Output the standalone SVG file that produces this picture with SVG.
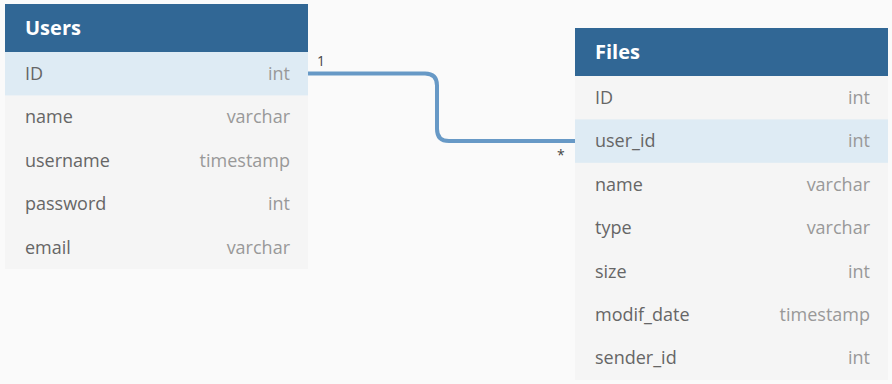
<svg xmlns="http://www.w3.org/2000/svg" width="892" height="384" viewBox="0 0 892 384">
  <style>
    .bg { fill: #fafafa; }
    .head { fill: #316795; }
    .row { fill: #f5f5f5; }
    .hl { fill: #deebf4; }
    .title { font-family: "Open Sans", "Liberation Sans", sans-serif; font-size: 20px; font-weight: bold; fill: #ffffff; }
    .fname { font-family: "Open Sans", "Liberation Sans", sans-serif; font-size: 18px; fill: #666666; }
    .ftype { font-family: "Open Sans", "Liberation Sans", sans-serif; font-size: 18px; fill: #999999; text-anchor: end; }
    .card { font-family: "Open Sans", "Liberation Sans", sans-serif; font-size: 14px; fill: #444444; }
    .link { fill: none; stroke: #6799c6; stroke-width: 4; }
  </style>
  <rect class="bg" x="0" y="0" width="892" height="384"/>

  <g id="connectors">
    <path class="link" d="M308 73.5 H425 Q437 73.5 437 85.5 V129 Q437 141 449 141 H575"/>
    <text class="card" x="317" y="66">1</text>
    <text class="card" x="557" y="160">*</text>
  </g>

  <g id="users">
    <rect class="row" x="5" y="4" width="303" height="265"/>
    <rect class="head" x="5" y="4" width="303" height="48"/>
    <text class="title" x="25" y="35">Users</text>
    <rect class="hl" x="5" y="52" width="303" height="43.4"/>
    <text class="fname" x="25" y="80">ID</text><text class="ftype" x="290" y="80">int</text>
    <text class="fname" x="25" y="123.4">name</text><text class="ftype" x="290" y="123.4">varchar</text>
    <text class="fname" x="25" y="166.8">username</text><text class="ftype" x="290" y="166.8">timestamp</text>
    <text class="fname" x="25" y="210.2">password</text><text class="ftype" x="290" y="210.2">int</text>
    <text class="fname" x="25" y="253.6">email</text><text class="ftype" x="290" y="253.6">varchar</text>
  </g>

  <g id="files">
    <rect class="row" x="575" y="28" width="313" height="352"/>
    <rect class="head" x="575" y="28" width="313" height="48"/>
    <text class="title" x="595" y="59">Files</text>
    <rect class="hl" x="575" y="119.4" width="313" height="43.4"/>
    <text class="fname" x="595" y="104">ID</text><text class="ftype" x="870" y="104">int</text>
    <text class="fname" x="595" y="147.4">user_id</text><text class="ftype" x="870" y="147.4">int</text>
    <text class="fname" x="595" y="190.8">name</text><text class="ftype" x="870" y="190.8">varchar</text>
    <text class="fname" x="595" y="234.2">type</text><text class="ftype" x="870" y="234.2">varchar</text>
    <text class="fname" x="595" y="277.6">size</text><text class="ftype" x="870" y="277.6">int</text>
    <text class="fname" x="595" y="321">modif_date</text><text class="ftype" x="870" y="321">timestamp</text>
    <text class="fname" x="595" y="364.4">sender_id</text><text class="ftype" x="870" y="364.4">int</text>
  </g>
</svg>
